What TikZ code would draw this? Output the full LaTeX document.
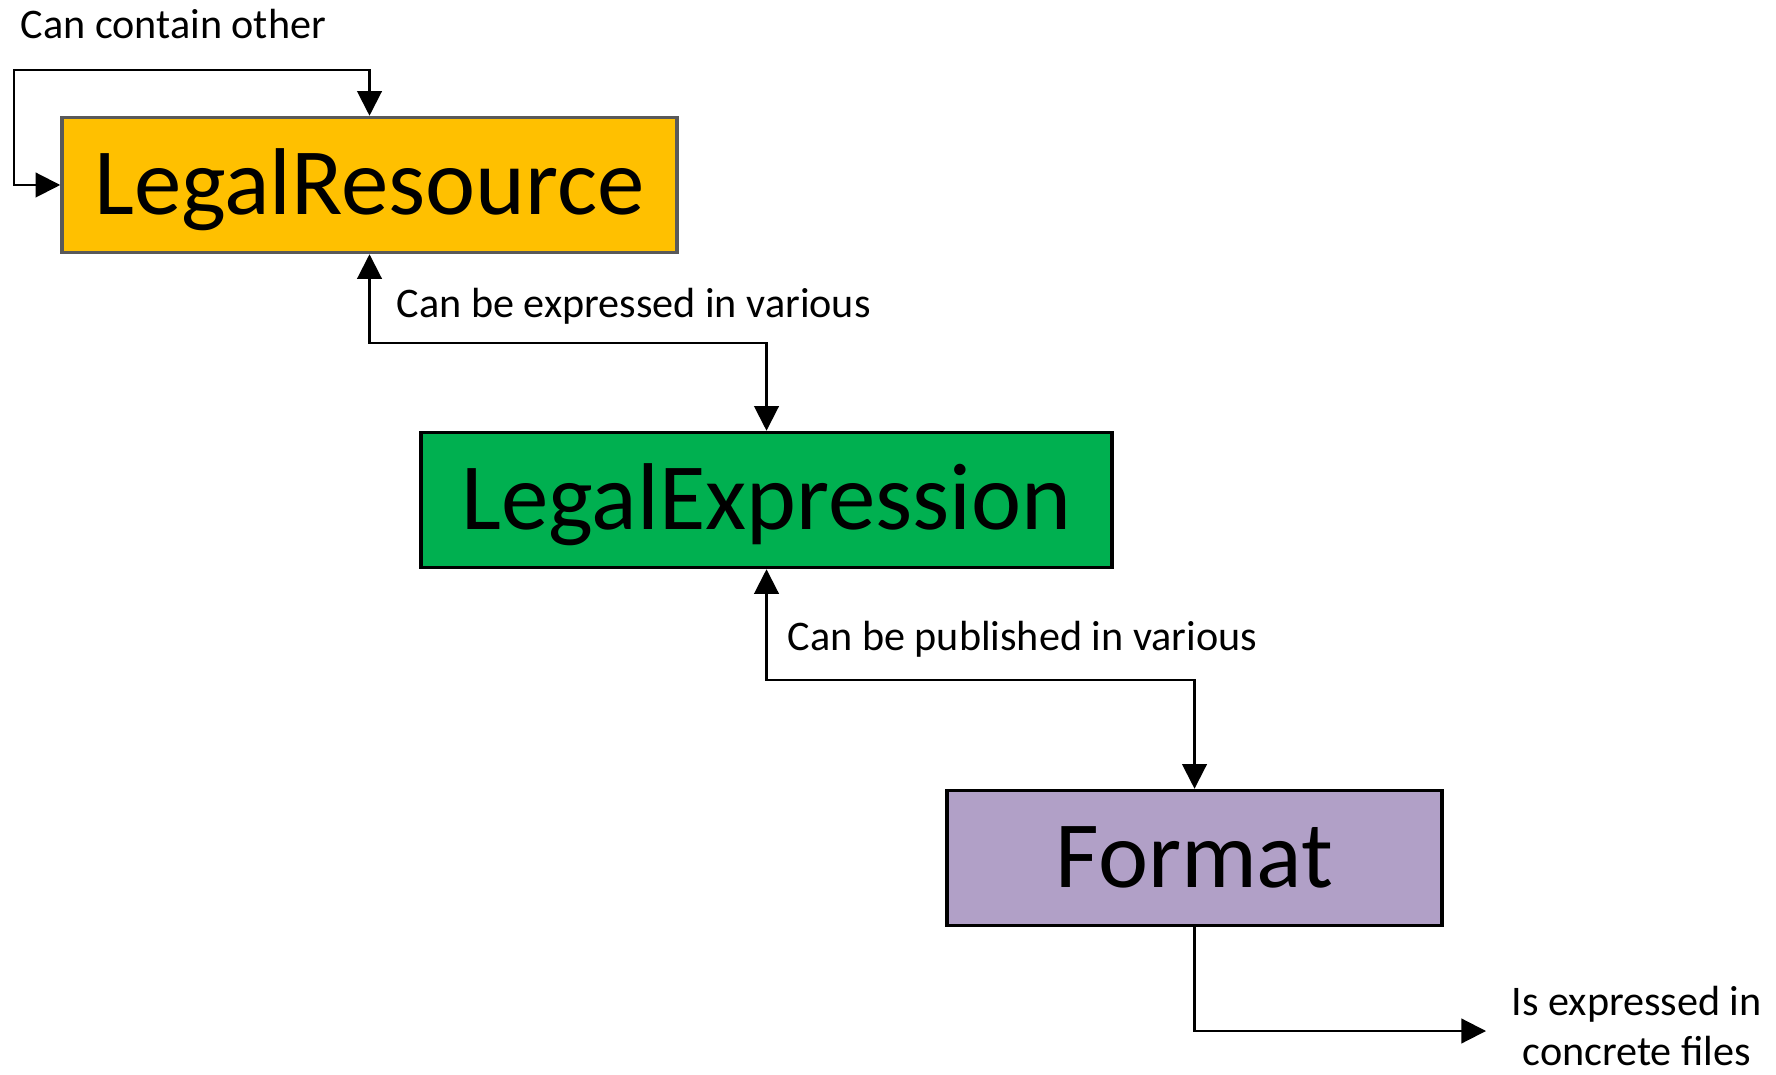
\documentclass[tikz,border=0pt]{standalone}
\usepackage{fontspec}
\setmainfont{Carlito}
\usetikzlibrary{arrows.meta,positioning}
\definecolor{resgold}{HTML}{FFC000}
\definecolor{resgray}{HTML}{595959}
\definecolor{exprgreen}{HTML}{00B050}
\definecolor{fmtpurple}{HTML}{B1A0C7}
\tikzset{
	box/.style={draw=black, line width=1pt, minimum height=1.35cm, inner sep=0pt, font=\fontsize{27}{32}\selectfont, text height=17pt, text depth=0pt},
	conn/.style={line width=0.6pt, {Triangle[length=7pt,width=7pt]}-{Triangle[length=7pt,width=7pt]}},
	oneway/.style={line width=0.6pt, -{Triangle[length=7pt,width=7pt]}},
	lbl/.style={inner sep=0pt, font=\fontsize{12}{14.2}\selectfont}
}

\begin{document}
\begin{tikzpicture}
			\useasboundingbox (0,0) rectangle (17.76,-10.75);
			\node[box, fill=resgold, draw=resgray, minimum width=6.15cm] (res) at (3.695,-1.85) {LegalResource};
			\node[box, fill=exprgreen, minimum width=6.91cm] (expr) at (7.665,-5.00) {LegalExpression};
			\node[box, fill=fmtpurple, minimum width=4.95cm] (fmt) at (11.945,-8.58) {Format};
			\coordinate (loop) at (0.136,-0.70);
			\coordinate (files) at (14.86,-10.31);
			\draw[conn] (res.west) -| (loop) -| (res.north);
			\draw[conn] (res.south) -- ++(0,-0.89) -| (expr.north);
			\draw[conn] (expr.south) -- ++(0,-1.11) -| (fmt.north);
			\draw[oneway] (fmt.south) |- (files);
			\node[lbl, anchor=west] (lcontain) at (0.20,-0.24) {Can contain other};
			\node[lbl, anchor=west] (lexpress) at (3.96,-3.06) {Can be expressed in various};
			\node[lbl, anchor=west] (lpublish) at (7.87,-6.39) {Can be published in various};
			\node[lbl, align=center, right=0.25cm of files, yshift=1.5pt] (lfiles) {Is expressed in\\concrete files};
		\end{tikzpicture}
\end{document}
